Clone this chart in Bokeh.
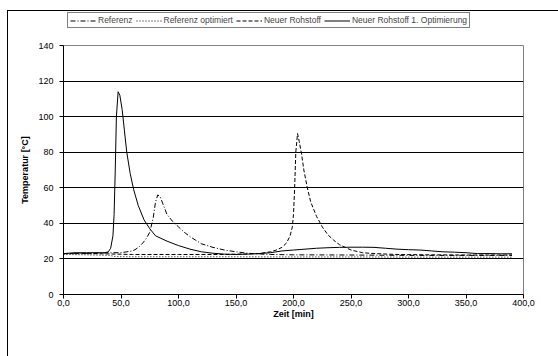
from bokeh.plotting import figure
from bokeh.layouts import column
from bokeh.models import Range1d, Legend, LegendItem, FixedTicker
from bokeh.embed import file_html
from bokeh.resources import INLINE

# ---- data ----
series_names = ["Referenz", "Referenz optimiert", "Neuer Rohstoff", "Neuer Rohstoff 1. Optimierung"]
series_dash = ["5 2 1 2", "1 2", "4 2", "solid"]

t_ref = [0, 20, 40, 50, 55, 60, 63, 66, 69, 72, 75, 78, 80, 82, 84, 87, 90, 95, 100, 105, 110, 115,
         120, 130, 140, 150, 160, 170, 180, 200, 250, 300, 350, 390]
T_ref = [23, 23, 23.5, 23.5, 24, 24.5, 25.5, 27, 29, 31.5, 35, 43, 52, 56, 55, 50, 45, 41, 38, 35, 32.5, 30.5,
         28.5, 26.5, 25, 24, 23.2, 22.8, 22.5, 22.3, 22.2, 22, 22, 22]

t_opt = [0, 20, 40, 45, 60, 100, 150, 200, 250, 300, 350, 390]
T_opt = [22.5, 22.3, 22, 21.3, 21.2, 21.2, 21.2, 21.1, 21.1, 21, 21, 21]

t_neu = [0, 20, 40, 60, 100, 140, 170, 180, 185, 190, 194, 197, 199, 200, 201, 202, 203.5, 205, 207, 209,
         212, 215, 220, 225, 230, 235, 240, 250, 260, 270, 290, 320, 350, 390]
T_neu = [23, 23, 22.8, 22.5, 22.5, 22.5, 23, 24, 25, 26.5, 29, 33, 38, 45, 60, 80, 90.5, 86, 79, 70,
         60, 52, 44, 38, 33.5, 30.5, 28, 25, 23.5, 23, 22.5, 22.3, 22.2, 22.2]

t_neu1 = [0, 10, 20, 30, 36, 39, 41, 43, 44, 45, 46, 47.5, 49, 51, 53, 55, 58, 61, 65, 70, 75, 80, 90,
          100, 110, 120, 130, 140, 150, 160, 170, 180, 190, 200, 210, 220, 230, 240, 250, 260, 270, 280,
          290, 300, 310, 320, 330, 340, 350, 360, 370, 380, 390]
T_neu1 = [23, 23.5, 23.5, 23.5, 23.5, 24, 26, 33, 45, 70, 100, 114, 112, 104, 92, 80, 68, 59, 50, 42, 37, 33, 30,
          27.5, 25.5, 24, 23.2, 22.7, 22.5, 22.7, 23, 23.5, 24.5, 25, 25.5, 26, 26.3, 26.5, 26.6, 26.6, 26.5, 26,
          25.5, 25.2, 25, 24.5, 24, 23.8, 23.5, 23, 23, 22.9, 22.9]

x_ticks = [0, 50, 100, 150, 200, 250, 300, 350, 400]
y_ticks = [0, 20, 40, 60, 80, 100, 120, 140]

series = [(t_ref, T_ref), (t_opt, T_opt), (t_neu, T_neu), (t_neu1, T_neu1)]

FONT = "Liberation Sans"

# ---- legend strip (series drawn out of its view, only the legend shows) ----
lf = figure(width=550, height=20, output_backend="svg", toolbar_location=None,
            x_axis_type=None, y_axis_type=None, x_range=Range1d(-2, -1), y_range=Range1d(-2, -1),
            min_border_left=0, min_border_right=0, min_border_top=0, min_border_bottom=0)
lf.outline_line_color = None
lf.grid.visible = False
lf.background_fill_color = "white"
lf.border_fill_color = "white"
lrs = [lf.line(tx, ty, line_color="black", line_width=1, line_dash=d) for (tx, ty), d in zip(series, series_dash)]
legend = Legend(items=[LegendItem(label=n, renderers=[r]) for n, r in zip(series_names, lrs)],
                orientation="horizontal", location=(4, 3),
                label_text_font=FONT, label_text_font_size="8.5px",
                label_height=9, glyph_height=9, glyph_width=26, label_width=10,
                label_standoff=2, spacing=3, padding=2, margin=0,
                border_line_color="black", border_line_width=1,
                background_fill_color="white", background_fill_alpha=1)
lf.add_layout(legend, "center")

# ---- main chart ----
p = figure(width=550, height=325, output_backend="svg", toolbar_location=None,
           x_range=Range1d(0, 400), y_range=Range1d(0, 140),
           min_border_left=55, min_border_right=35, min_border_top=14, min_border_bottom=62)

p.background_fill_color = "white"
p.border_fill_color = "white"
p.outline_line_color = "#808080"
p.outline_line_width = 1

p.xgrid.visible = False
p.ygrid.ticker = FixedTicker(ticks=y_ticks)
p.ygrid.grid_line_color = "black"
p.ygrid.grid_line_width = 1

for ax in (p.xaxis[0], p.yaxis[0]):
    ax.axis_line_color = "black"
    ax.major_tick_line_color = "black"
    ax.minor_tick_line_color = None
    ax.major_tick_out = 4
    ax.major_tick_in = 0
    ax.major_label_text_font = FONT
    ax.major_label_text_font_size = "9px"
    ax.major_label_text_color = "black"
    ax.axis_label_text_font = FONT
    ax.axis_label_text_font_size = "9px"
    ax.axis_label_text_font_style = "bold"
    ax.axis_label_text_color = "black"

p.xaxis.ticker = FixedTicker(ticks=x_ticks)
p.xaxis.major_label_overrides = {t: f"{t:.1f}".replace(".", ",") for t in x_ticks}
p.xaxis.axis_label = "Zeit [min]"
p.xaxis.axis_label_standoff = 0
p.xaxis.major_label_standoff = 1

p.yaxis.ticker = FixedTicker(ticks=y_ticks)
p.yaxis.axis_label = "Temperatur [°C]"
p.yaxis.axis_label_standoff = 5
p.yaxis.major_label_standoff = 6

for (tx, ty), d in zip(series, series_dash):
    p.line(tx, ty, line_color="black", line_width=1, line_dash=d)

layout = column(lf, p, spacing=0)
layout.styles = {"margin-left": "7px", "margin-top": "10px",
                 "border-left": "1px solid black", "border-top": "1px solid black"}

open("out.html", "w").write(file_html(layout, INLINE))
